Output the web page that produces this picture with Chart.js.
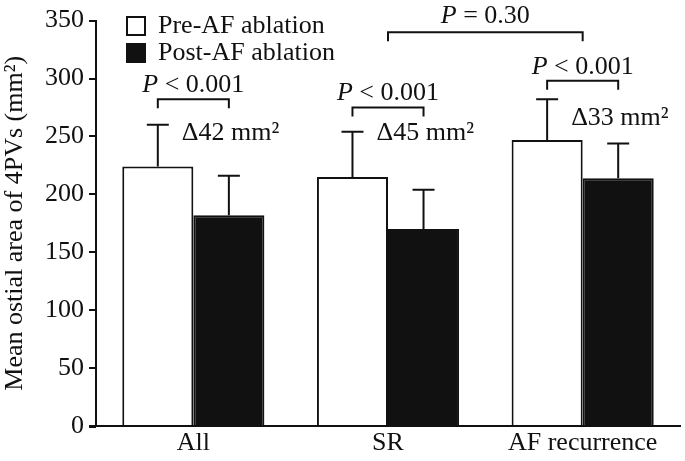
<!DOCTYPE html>
<html>
<head>
<meta charset="utf-8">
<script src="https://cdn.jsdelivr.net/npm/chart.js@4"></script>
<style>
  html, body { margin: 0; padding: 0; background: #fff; }
  #wrap { width: 685px; height: 461px; }
</style>
</head>
<body>
<div id="wrap"><canvas id="barChart" width="685" height="461"></canvas></div>
<script>
const categories = ['All', 'SR', 'AF recurrence'];
const preValues = [224, 215, 247];
const postValues = [182, 170, 214];
const preErrors = [36, 39, 35];
const postErrors = [34, 34, 30];
const seriesNames = ['Pre-AF ablation', 'Post-AF ablation'];

// comparisons drawn above the bars (levels in mm2)
const pairLabels = ['< 0.001', '< 0.001', '< 0.001'];
const pairLevels = [282, 275, 298];
const deltaLabels = ['\u039442 mm\u00b2', '\u039445 mm\u00b2', '\u039433 mm\u00b2'];
const deltaLevels = [247, 247, 260];
const groupLabel = '= 0.30';
const groupLevel = 340;

const FONT = '"Liberation Serif", "Times New Roman", serif';

function drawPText(ctx, cx, y, rest) {
    ctx.font = 'italic 26px ' + FONT;
    const wp = ctx.measureText('P').width;
    ctx.font = '26px ' + FONT;
    const wr = ctx.measureText(' ' + rest).width;
    let x = cx - (wp + wr) / 2;
    ctx.textAlign = 'left';
    ctx.textBaseline = 'alphabetic';
    ctx.font = 'italic 26px ' + FONT;
    ctx.fillText('P', x, y);
    ctx.font = '26px ' + FONT;
    ctx.fillText(' ' + rest, x + wp, y);
}

function bracket(ctx, x1, x2, y) {
    ctx.beginPath();
    ctx.moveTo(x1, y + 9);
    ctx.lineTo(x1, y);
    ctx.lineTo(x2, y);
    ctx.lineTo(x2, y + 9);
    ctx.stroke();
}

const extras = {
    id: 'extras',
    afterLayout(chart) {
        // move the legend inside the plot, as in the original figure
        const lg = chart.legend;
        if (!lg) return;
        lg.left += 30; lg.right += 30;
        lg.top += 12; lg.bottom += 12;
    },
    afterDatasetsDraw(chart) {
        const ctx = chart.ctx;
        const y = chart.scales.y;
        const x = chart.scales.x;
        const errs = [preErrors, postErrors];
        const vals = [preValues, postValues];
        ctx.save();
        ctx.strokeStyle = '#111';
        ctx.fillStyle = '#111';
        ctx.lineWidth = 2;
        // error bars (upper only)
        [0, 1].forEach(d => {
            chart.getDatasetMeta(d).data.forEach((bar, j) => {
                const top = y.getPixelForValue(vals[d][j] + errs[d][j]);
                ctx.beginPath();
                ctx.moveTo(bar.x, bar.y);
                ctx.lineTo(bar.x, top);
                ctx.moveTo(bar.x - 11, top);
                ctx.lineTo(bar.x + 11, top);
                ctx.stroke();
            });
        });
        const pre = chart.getDatasetMeta(0).data;
        const post = chart.getDatasetMeta(1).data;
        categories.forEach((c, j) => {
            const by = y.getPixelForValue(pairLevels[j]);
            bracket(ctx, pre[j].x, post[j].x, by);
            drawPText(ctx, (pre[j].x + post[j].x) / 2, by - 7, pairLabels[j]);
            ctx.font = '26px ' + FONT;
            ctx.textAlign = 'left';
            ctx.fillText(deltaLabels[j], pre[j].x + 24, y.getPixelForValue(deltaLevels[j]));
        });
        const gy = y.getPixelForValue(groupLevel);
        const gx1 = x.getPixelForValue(1), gx2 = x.getPixelForValue(2);
        bracket(ctx, gx1, gx2, gy);
        drawPText(ctx, (gx1 + gx2) / 2, gy - 9, groupLabel);
        // x axis line runs out under the y ticks
        ctx.beginPath();
        ctx.moveTo(y.left + y.width - 7, y.bottom + 1);
        ctx.lineTo(chart.chartArea.left, y.bottom + 1);
        ctx.stroke();
        ctx.restore();
    }
};

const barCtx = document.getElementById('barChart').getContext('2d');
new Chart(barCtx, {
    type: 'bar',
    data: {
        labels: categories,
        datasets: [
            {
                label: seriesNames[0],
                data: preValues,
                backgroundColor: '#fff',
                borderColor: '#111',
                borderWidth: 2,
            },
            {
                label: seriesNames[1],
                data: postValues,
                backgroundColor: '#111',
                borderColor: '#111',
                borderWidth: 2,
            }
        ]
    },
    options: {
        responsive: false,
        animation: false,
        layout: { padding: { top: 20, right: 5, left: 0, bottom: 0 } },
        datasets: { bar: { categoryPercentage: 0.73, barPercentage: 1.0 } },
        plugins: {
            legend: {
                position: 'chartArea',
                align: 'start',
                labels: {
                    color: '#111',
                    font: { family: FONT, size: 26 },
                    boxWidth: 18,
                    boxHeight: 18,
                    padding: 1,
                    useBorderRadius: false,
                },
            },
            tooltip: { enabled: false },
        },
        scales: {
            x: {
                afterFit: s => { s.height = 35; },
                grid: { display: false, drawTicks: false },
                border: { color: '#111', width: 2 },
                ticks: { color: '#111', font: { family: FONT, size: 26 }, padding: 2 },
            },
            y: {
                min: 0,
                max: 350,
                afterFit: s => { s.width = 96; },
                grid: { drawOnChartArea: false, drawTicks: true, tickLength: 7, color: '#111', lineWidth: 2 },
                border: { color: '#111', width: 2 },
                ticks: { stepSize: 50, color: '#111', font: { family: FONT, size: 26 }, padding: 5 },
                title: {
                    display: true,
                    text: 'Mean ostial area of 4PVs (mm\u00b2)',
                    color: '#111',
                    font: { family: FONT, size: 26 },
                    padding: 0,
                },
            }
        }
    },
    plugins: [extras]
});
</script>
</body>
</html>
